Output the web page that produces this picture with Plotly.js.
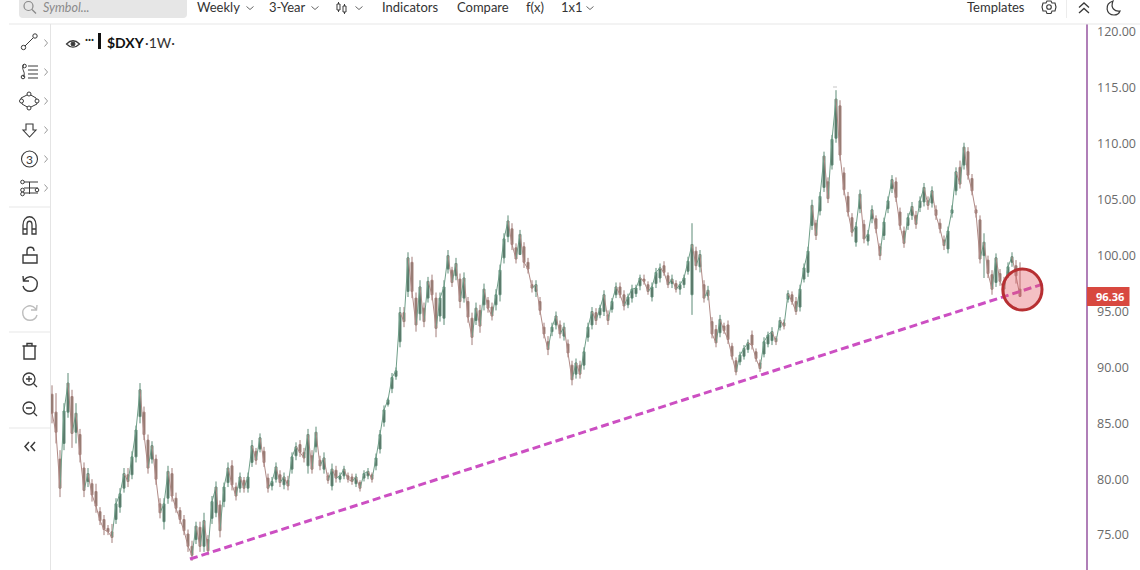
<!DOCTYPE html>
<html><head><meta charset="utf-8">
<script src="https://cdn.plot.ly/plotly-3.0.1.min.js"></script>
<style>html,body{margin:0;padding:0;background:#fff;overflow:hidden}#c{width:1140px;height:570px}</style>
</head><body><div id="c"></div>
<script>
// Weekly candles of $DXY
const high=[88.4,87.7,82.6,86.8,89.5,88.0,86.8,84.5,81.5,81.0,80.0,79.6,77.5,76.8,75.9,76.0,78.3,79.2,81.0,81.0,82.5,84.8,88.6,86.5,84.0,83.4,82.2,78.3,78.3,81.2,81.0,78.8,77.5,76.8,75.5,74.5,76.2,76.2,77.0,75.0,
78.5,79.8,78.1,79.7,81.5,81.7,79.7,80.6,80.2,80.6,83.5,82.8,84.1,82.9,80.5,80.2,81.5,80.8,80.6,80.3,82.4,83.3,83.5,82.8,84.5,82.6,84.7,82.1,82.4,80.6,81.4,81.2,80.6,81.2,80.6,80.5,80.5,79.9,80.8,81.0,80.6,82.3,84.4,86.6,87.3,89.5,90.0,95.4,95.4,
100.3,99.9,96.7,97.8,95.8,98.1,98.3,96.7,96.7,97.8,100.5,99.0,99.8,98.4,98.5,96.3,94.9,95.8,95.6,97.5,96.3,95.8,97.0,99.2,102.0,103.6,102.9,101.1,102.3,101.2,99.8,97.8,97.8,96.3,94.0,92.8,94.0,95.0,94.2,94.0,92.5,90.6,90.8,90.6,91.8,94.0,95.4,95.3,95.6,96.9,95.1,96.2,97.6,97.6,96.9,96.6,97.4,97.4,98.3,98.3,97.7,97.6,98.9,99.3,99.5,98.5,98.3,97.8,97.7,98.3,99.9,102.9,100.8,100.5,97.8,97.3,94.5,93.8,94.7,94.0,94.2,92.2,90.9,91.4,92.0,92.5,93.3,91.7,90.7,92.7,93.2,93.6,92.8,94.5,94.3,96.9,96.8,96.3,97.4,99.3,100.8,105.0,103.2,105.7,109.3,107.0,110.8,114.8,113.9,107.9,105.7,103.8,103.0,105.9,103.2,102.3,104.5,103.6,101.1,103.4,105.3,107.2,107.0,104.3,102.6,103.8,104.8,104.0,105.3,106.5,105.3,106.2,104.5,103.3,101.8,102.6,104.5,107.9,108.5,110.1,109.7,107.3,104.5,103.6,102.0,100.0,98.7,100.2,98.8,98.1,99.4,100.3,99.6,99.4];
const low=[85.0,83.2,78.4,82.6,85.5,82.8,83.2,81.5,78.4,79.3,78.0,77.0,75.9,75.0,75.0,74.3,76.0,77.0,78.8,79.3,80.0,81.5,85.0,83.5,80.5,81.4,79.5,76.5,75.5,77.8,78.0,77.0,76.0,75.0,73.5,72.7,74.2,73.5,73.5,73.2,
76.0,76.6,74.8,77.5,79.3,79.0,78.1,78.8,78.8,78.8,81.1,81.3,82.4,81.1,78.8,79.0,79.7,79.3,79.1,79.0,80.5,81.7,82.0,81.5,80.5,80.5,82.4,80.8,80.5,79.6,79.0,79.7,79.7,80.0,79.7,79.5,79.3,78.9,79.8,80.0,79.7,80.8,82.3,84.7,86.5,87.7,88.9,91.8,93.6,
96.3,96.2,93.2,94.2,93.6,95.8,96.0,92.7,94.1,93.8,98.4,97.2,97.8,95.3,95.8,94.0,92.0,93.8,93.1,95.1,94.9,94.2,95.1,95.9,99.3,101.2,100.5,99.3,100.7,98.9,98.4,96.7,96.3,94.7,92.6,91.1,92.8,93.4,92.6,92.4,90.9,88.4,89.0,89.0,89.8,92.3,93.4,93.8,94.4,94.6,93.8,94.9,96.2,96.2,95.1,95.3,95.8,96.3,96.9,97.4,96.5,95.9,97.1,97.6,98.2,97.1,97.1,96.7,96.5,97.1,98.3,94.7,98.7,98.5,95.8,96.0,92.6,91.8,92.7,93.0,92.1,90.7,89.3,90.2,90.7,91.3,91.6,90.5,89.6,90.9,91.8,92.0,92.0,93.3,93.4,95.8,95.6,94.7,95.0,97.6,98.1,102.3,101.4,103.6,105.7,104.7,107.7,110.1,108.5,105.4,103.5,101.7,100.8,103.8,101.1,100.9,102.9,102.0,99.6,101.4,103.8,105.6,104.8,102.3,100.7,102.3,103.2,102.4,103.9,104.4,104.1,104.3,103.2,102.0,100.5,100.2,103.4,105.4,106.0,107.7,106.8,105.4,103.4,99.3,98.0,98.0,96.5,97.2,97.3,96.5,98.0,99.0,97.5,96.3];
const open=[87.6,86.0,81.8,83.2,86.0,87.4,84.2,84.0,81.0,79.8,79.6,78.9,77.1,76.4,75.6,75.3,76.4,77.5,79.2,80.4,80.4,82.0,85.6,86.0,83.5,81.8,81.8,77.8,76.2,78.3,80.5,78.3,77.2,76.4,75.1,74.0,74.6,75.7,74.0,74.6,
76.5,77.0,77.7,78.0,79.7,81.2,79.3,79.2,79.9,79.2,81.5,82.5,82.7,82.5,80.1,79.4,80.0,80.4,79.5,79.9,80.9,82.1,83.1,82.4,81.2,82.1,82.9,81.7,80.9,80.3,79.4,80.8,80.0,80.3,80.3,80.2,79.6,79.7,80.1,80.3,80.4,81.2,82.7,85.1,86.7,88.1,89.2,92.3,94.9,
96.8,99.4,96.2,94.8,95.3,96.2,97.8,96.2,94.6,94.4,98.8,98.7,98.2,97.9,96.2,95.9,94.4,94.2,95.1,95.6,96.0,95.4,95.6,96.5,99.8,101.7,102.4,100.7,100.1,100.8,99.4,97.4,96.8,95.9,93.6,92.3,93.2,93.8,93.8,92.8,92.1,90.2,89.4,90.2,90.2,92.7,93.8,94.9,94.7,95.0,94.7,95.2,96.5,97.2,96.5,95.6,96.2,96.6,97.3,97.9,97.4,96.3,97.5,98.0,99.1,98.2,97.5,97.5,97.0,97.4,98.6,96.5,100.4,99.0,97.4,96.4,94.1,93.4,93.1,93.7,93.8,91.9,90.6,90.5,91.0,91.6,92.9,91.4,90.4,91.2,92.1,92.4,92.6,93.6,94.0,96.1,96.5,95.9,95.4,97.9,98.5,102.7,102.9,104.0,106.1,106.6,108.1,110.5,113.4,107.4,105.3,103.4,101.2,104.2,102.8,101.3,103.3,103.3,100.8,101.8,104.2,106.0,106.6,103.9,102.2,102.7,103.6,103.6,104.3,104.8,104.9,104.7,104.1,102.9,101.4,100.6,103.8,105.8,107.9,108.1,109.3,106.9,104.1,103.2,100.0,99.6,98.3,97.6,98.4,97.7,98.4,99.4,99.1,97.0];
const close=[85.9,84.2,79.2,86.1,88.6,84.1,85.9,82.2,79.0,80.5,78.6,77.6,76.3,75.5,75.3,74.8,77.8,78.7,80.5,79.8,82.0,84.4,88.0,84.0,81.0,83.0,80.0,77.0,77.8,80.7,78.5,77.4,76.4,75.4,74.0,73.2,75.8,74.0,76.3,73.6,
78.0,79.3,75.4,79.3,81.0,79.5,78.5,80.2,79.2,80.2,83.0,81.7,83.7,81.5,79.2,79.8,81.1,79.7,80.2,79.4,82.0,82.9,82.4,81.9,84.0,80.9,84.2,81.2,81.9,79.9,80.9,80.1,80.3,80.9,80.0,79.8,80.2,79.2,80.5,80.7,80.0,81.9,84.0,86.2,87.1,89.1,89.7,94.9,94.1,
99.8,96.8,93.8,97.2,94.1,97.7,96.5,93.5,96.2,97.2,100.0,97.6,99.3,95.9,98.0,94.5,92.7,95.3,93.7,97.0,95.3,94.6,96.5,98.7,101.5,103.1,101.0,99.7,101.9,99.4,98.8,97.1,97.4,95.1,93.0,91.6,93.6,94.6,93.0,93.6,91.3,88.9,90.4,89.4,91.4,93.6,95.0,94.2,95.3,96.5,94.2,95.9,97.2,96.5,95.5,96.3,97.0,97.1,98.0,97.7,96.8,97.2,98.5,98.9,98.5,97.4,97.9,97.0,97.4,98.0,99.5,101.0,99.1,100.1,96.2,96.9,93.0,92.2,94.3,93.3,92.5,91.0,89.6,91.1,91.7,92.2,92.0,90.8,89.9,92.3,92.9,93.2,92.3,94.2,93.7,96.6,95.9,95.0,97.0,98.9,100.4,104.5,101.8,105.3,108.9,105.1,110.4,114.0,109.0,105.9,103.9,102.1,102.6,105.5,101.5,101.9,104.1,102.4,100.0,103.0,104.9,106.8,105.2,102.7,101.1,103.4,104.4,102.8,104.9,106.1,104.5,105.8,103.6,102.4,100.9,102.2,104.1,107.5,106.4,109.7,107.2,105.8,103.8,99.7,101.2,98.4,97.0,99.8,97.7,97.0,99.0,99.9,98.2,96.36];
const weekIndex=high.map((_,i)=>i);
const yTicks=[120,115,110,105,100,95,90,85,80,75];
const lastPrice=96.36;
// Trend line and highlight circle, in chart coordinates (week index, price)
const trendWeeks=[34.5,247.75], trendPrices=[72.86,97.46];
const circleWeeks=[237.7,247.5], circlePrices=[95.13,98.8];

const PX=x=>x/1140, PY=y=>1-y/570;
const ink='#3a3a3a';
function path(d,color,width,fill){
  const s=d.replace(/(-?[\d.]+) (-?[\d.]+)/g,(m,a,b)=>PX(+a).toFixed(5)+','+PY(+b).toFixed(5));
  return {type:'path',xref:'paper',yref:'paper',path:s,line:{color:color||ink,width:width||1.3},fillcolor:fill||'rgba(0,0,0,0)',layer:'above'};
}
function circ(cx,cy,r,color,width,fill){
  return {type:'circle',xref:'paper',yref:'paper',x0:PX(cx-r),x1:PX(cx+r),y0:PY(cy+r),y1:PY(cy-r),line:{color:color||ink,width:width||1.2},fillcolor:fill||'rgba(0,0,0,0)',layer:'above'};
}
function rect(x0,y0,x1,y1,fill){
  return {type:'rect',xref:'paper',yref:'paper',x0:PX(x0),x1:PX(x1),y0:PY(y1),y1:PY(y0),line:{width:0},fillcolor:fill,layer:'above'};
}
function label(x,y,text,size,color,extra){
  return Object.assign({xref:'paper',yref:'paper',x:PX(x),y:PY(y),text:text,showarrow:false,xanchor:'left',yanchor:'middle',borderpad:0,
    font:{family:'Lato, sans-serif',size:size||13,color:color||'#333'}},extra||{});
}
const chev=(x,y)=>path(`M ${x-3.5} ${y-1.5} L ${x} ${y+1.5} L ${x+3.5} ${y-1.5}`,'#666',1);
const side=(y)=>path(`M 44.5 ${y-3.5} L 47.5 ${y} L 44.5 ${y+3.5}`,'#999',1);

const shapes=[
  // frame lines
  rect(9,23.5,1140,24.5,'#e7e7e7'), rect(50,24,51,570,'#e4e4e4'),
  rect(9,206.5,50,207.5,'#e7e7e7'), rect(9,331.5,50,332.5,'#e7e7e7'), rect(9,427.5,50,428.5,'#e7e7e7'),
  rect(1066,0,1067,18,'#ececec'),
  // search box
  {type:'path',xref:'paper',yref:'paper',layer:'below',fillcolor:'#e6e6e6',line:{width:0},
   path:`M ${PX(19)},${PY(-2)} L ${PX(187)},${PY(-2)} L ${PX(187)},${PY(14)} Q ${PX(187)},${PY(18)} ${PX(183)},${PY(18)} L ${PX(23)},${PY(18)} Q ${PX(19)},${PY(18)} ${PX(19)},${PY(14)} Z`},
  circ(28.5,6,4.5,'#888',1.2), path('M 32 9.5 L 36 13.5','#888',1.2),
  // top icons
  chev(250,8), chev(315,8), chev(359,8), chev(590,8),
  path('M 337 4 L 337 10 L 340 10 L 340 4 Z M 338.5 2 L 338.5 4 M 338.5 10 L 338.5 12 M 343 6 L 343 12 L 346 12 L 346 6 Z M 344.5 4 L 344.5 6 M 344.5 12 L 344.5 14',ink,1),
  circ(1049,7,2.3,ink,1.1),
  path('M 1047 1 L 1051 1 L 1052 3 L 1055 3 L 1056 7 L 1055 11 L 1052 11 L 1051 13.5 L 1047 13.5 L 1046 11 L 1043 11 L 1042 7 L 1043 3 L 1046 3 Z',ink,1.1),
  path('M 1079 7.5 L 1084 3 L 1089 7.5 M 1079 13 L 1084 8.5 L 1089 13',ink,1.3),
  path('M 1113 1 C 1104 4 1106 15 1114 15 C 1117 15 1119 14 1120 11 C 1115 12 1110 8 1113 1 Z',ink,1.2),
  // legend
  circ(73,44,2,ink,1,ink),
  path('M 66.5 44 Q 73 37.5 79.5 44 Q 73 50.5 66.5 44 Z',ink,1.2),
  rect(98,33,101,49,'#111'),
  // left toolbar
  path('M 25 46 L 33 38',ink,1), circ(23.5,47.5,2.2,ink,1), circ(35,36,2.2,ink,1), side(43),
  path('M 24 64 C 20 70 27 72 23 77',ink,1), circ(24.5,66,1.8,ink,1), circ(23,77,1.8,ink,1),
  path('M 28 66 L 38 66 M 28 70 L 38 70 M 28 74 L 38 74 M 28 78 L 38 78',ink,1), side(72),
  path('M 29 94 L 36 98 L 37 104 L 29 108 L 22 104 L 21 98 Z',ink,1),
  circ(29,94,2,ink,1,'#fff'), circ(37,101,2,ink,1,'#fff'), circ(29,108,2,ink,1,'#fff'), circ(21.5,101,2,ink,1,'#fff'), side(101),
  path('M 26 124 L 33 124 L 33 130 L 36 130 L 29.5 137 L 23 130 L 26 130 Z',ink,1.1), side(130),
  circ(29.5,159,8,ink,1.1), side(159),
  path('M 24 182 L 38 182 M 29.5 182 L 29.5 194 M 24 188 L 38 188 M 24 193 L 38 193',ink,1),
  circ(22.5,182,1.8,ink,1,'#fff'), circ(22.5,190,1.8,ink,1,'#fff'), circ(22.5,194,1.8,ink,1,'#fff'), circ(37,190,1.8,ink,1,'#fff'), side(188),
  path('M 23 234 L 23 225 C 23 214 36 214 36 225 L 36 234 L 32 234 L 32 225 C 32 220 27 220 27 225 L 27 234 Z M 23 229 L 27 229 M 32 229 L 36 229',ink,1.3),
  path('M 23 255 L 37 255 L 37 263 L 23 263 Z M 27 255 L 27 251 C 27 246 34 246 34 251',ink,1.4),
  path('M 24 280 C 30 273 39 279 37 286 C 35 293 25 293 23 286 M 23 276 L 23.5 281 L 29 281',ink,1.4),
  path('M 36 309 C 30 302 21 308 23 315 C 25 322 35 322 37 315 M 37 305 L 36.5 310 L 31 310','#bdbdbd',1.4),
  path('M 24 346 L 35 346 L 35 359 L 24 359 Z M 22.5 346 L 36.5 346 M 27 346 L 27 343.5 L 32 343.5 L 32 346',ink,1.4),
  circ(29,379,6,ink,1.3), path('M 33.5 383.5 L 37 387 M 26 379 L 32 379 M 29 376 L 29 382',ink,1.3),
  circ(29,408,6,ink,1.3), path('M 33.5 412.5 L 37 416 M 26 408 L 32 408',ink,1.3),
  path('M 29 442 L 25 446.5 L 29 451 M 35 442 L 31 446.5 L 35 451',ink,1.5),
  // tiny mark over the high
  rect(833,86.5,837,87.5,'#c4c4c4'),
  // chart drawing tools
  {type:'line',xref:'x',yref:'y',x0:trendWeeks[0],x1:trendWeeks[1],y0:trendPrices[0],y1:trendPrices[1],line:{color:'#cc4fc2',width:3,dash:'8px,4px'},layer:'above'},
  {type:'circle',xref:'x',yref:'y',x0:circleWeeks[0],x1:circleWeeks[1],y0:circlePrices[0],y1:circlePrices[1],line:{color:'#b72f32',width:3},fillcolor:'rgba(226,90,100,0.38)',layer:'above'},
  // last price tag
  rect(1087,287,1129.5,306,'#d8483f')
];

const annotations=[
  label(42,7,'<i>Symbol...</i>',12.5,'#8a8a8a'),
  label(196,7,'Weekly'), label(268,7,'3-Year'), label(381,7,'Indicators'),
  label(456,7,'Compare'), label(525,7,'f(x)'), label(560,7,'1x1'), label(966,7,'Templates'),
  label(84,39,'<b>···</b>',11,'#222'),
  label(106,42,'<b>$DXY</b>',14,'#111'),
  label(144,42,'·1W·',14,'#333'),
  label(29.5,159.5,'3',12,ink,{xanchor:'center'}),
  {xref:'paper',yref:'y',x:PX(1110),y:lastPrice,text:'<b>'+lastPrice.toFixed(2)+'</b>',showarrow:false,xanchor:'center',yanchor:'middle',
   font:{family:'Open Sans, sans-serif',size:11,color:'#fff'}}
];

// Thin links from one weekly close to the next, green on rises and red on falls
const up={x:[],y:[]}, down={x:[],y:[]};
for(let i=1;i<close.length;i++){
  const s=close[i]>=close[i-1]?up:down;
  s.x.push(weekIndex[i-1],weekIndex[i],null); s.y.push(close[i-1],close[i],null);
}
const link=(s,color)=>({type:'scatter',mode:'lines',x:s.x,y:s.y,line:{color:color,width:1},hoverinfo:'skip',connectgaps:false});

const trace={type:'candlestick',x:weekIndex,open:open,high:high,low:low,close:close,width:0.72,whiskerwidth:0,
  increasing:{line:{color:'#5d8b76',width:1},fillcolor:'#56695f'},
  decreasing:{line:{color:'#a27d78',width:1},fillcolor:'#8b7a70'},hoverinfo:'skip'};

const layout={width:1140,height:570,margin:{l:0,r:0,t:0,b:0},paper_bgcolor:'#fff',plot_bgcolor:'#fff',showlegend:false,
  xaxis:{domain:[51/1140,1086/1140],range:[-0.25,258.5],showgrid:false,zeroline:false,showticklabels:false,ticks:'',showline:false,rangeslider:{visible:false}},
  yaxis:{domain:[0,1-24/570],range:[71.88,120.72],side:'right',anchor:'x',showgrid:false,zeroline:false,tickmode:'array',tickvals:yTicks,
    ticktext:yTicks.map(v=>v.toFixed(2)),ticks:'',ticklabelstandoff:7,showline:true,linecolor:'#b07fb8',linewidth:1.5,
    tickfont:{family:'Open Sans, sans-serif',size:12.5,color:'#6a6a6a'}},
  shapes:shapes,annotations:annotations};
Plotly.newPlot('c',[link(up,'#6f9e88'),link(down,'#b08a86'),trace],layout,{staticPlot:true,displayModeBar:false});
</script></body></html>
